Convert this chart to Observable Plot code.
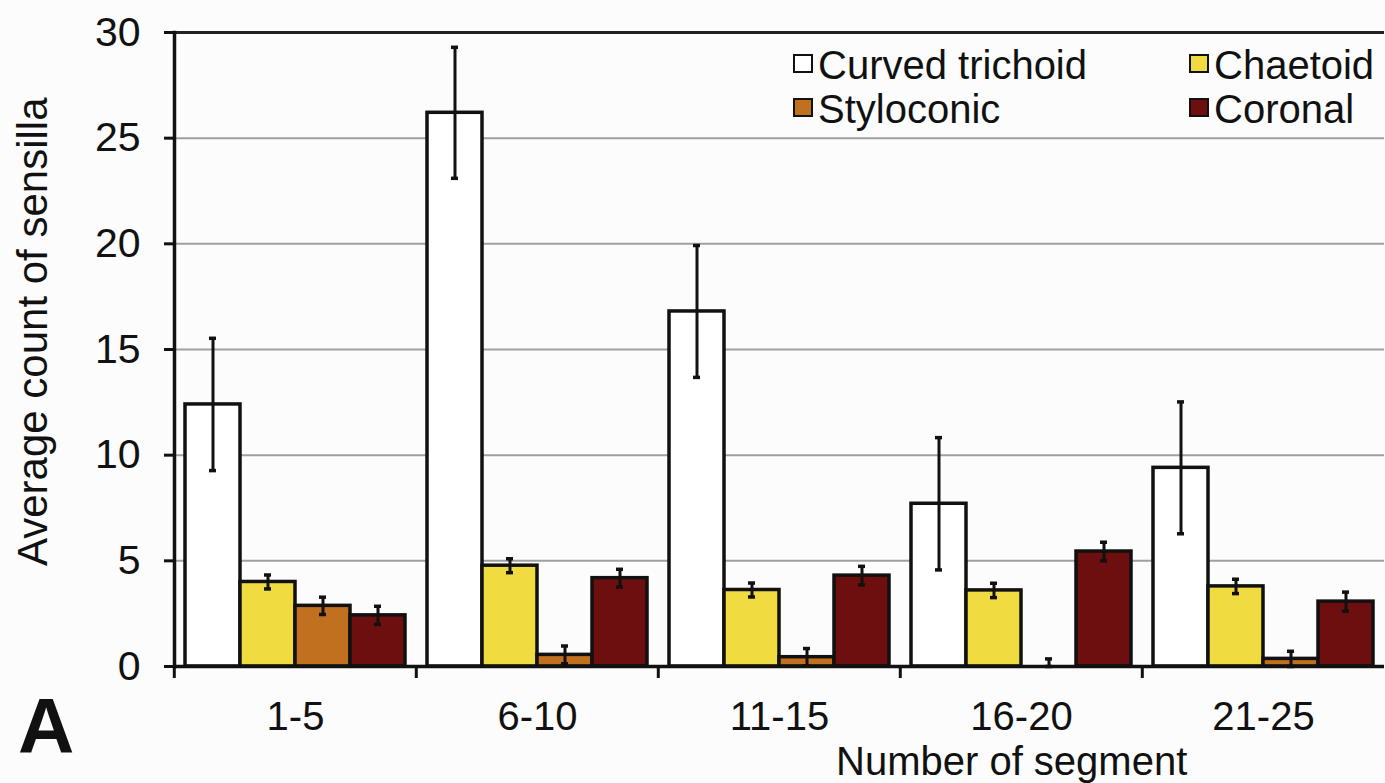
<!DOCTYPE html>
<html>
<head>
<meta charset="utf-8">
<script src="https://cdn.jsdelivr.net/npm/d3@7"></script>
<script src="https://cdn.jsdelivr.net/npm/@observablehq/plot@0.6"></script>
<style>
  html, body { margin: 0; padding: 0; background: #fcfcfc; }
  #wrap { position: relative; width: 1385px; height: 783px; overflow: hidden;
          font-family: "Liberation Sans", Arial, sans-serif; color: #111; }
  #wrap svg { position: absolute; left: 0; top: 0; }
  .lbl { position: absolute; white-space: nowrap; line-height: 1; }
  .sw { position: absolute; width: 16px; height: 15px; border: 2px solid #111; }
</style>
</head>
<body>
<div id="wrap"></div>
<script>
// ---- data ----
const groups = ["1-5", "6-10", "11-15", "16-20", "21-25"];
const series = ["Curved trichoid", "Chaetoid", "Styloconic", "Coronal"];
const seriesColors = ["#ffffff", "#f0dc40", "#c0701e", "#6e0f0f"];

const curvedTrichoid = [12.4, 26.2, 16.8, 7.7, 9.4];
const chaetoid       = [4.0, 4.77, 3.62, 3.6, 3.79];
const styloconic     = [2.87, 0.55, 0.44, 0.0, 0.36];
const coronal        = [2.42, 4.18, 4.3, 5.44, 3.07];

const seCurvedTrichoid = [3.13, 3.1, 3.12, 3.13, 3.12];
const seChaetoid       = [0.33, 0.33, 0.33, 0.34, 0.34];
const seStyloconic     = [0.41, 0.42, 0.41, 0.36, 0.36];
const seCoronal        = [0.43, 0.42, 0.44, 0.44, 0.45];

const yTicks = [0, 5, 10, 15, 20, 25, 30];
const gridTicks = [5, 10, 15, 20, 25];

const yLabel = "Average count of sensilla";
const xLabel = "Number of segment";
const panelLetter = "A";

// ---- table ----
const values = [curvedTrichoid, chaetoid, styloconic, coronal];
const errors = [seCurvedTrichoid, seChaetoid, seStyloconic, seCoronal];
const table = [];
groups.forEach((g, gi) => {
  series.forEach((s, si) => {
    const v = values[si][gi], e = errors[si][gi];
    table.push({group: g, series: s, value: v, lo: Math.max(0, v - e), hi: v + e});
  });
});

const FS = 40;
const W = 1385, H = 783, ML = 173, MR = 0, MT = 32, MB = 117;
const facetStep = (W - ML - MR) / groups.length;

const chart = Plot.plot({
  width: W, height: H,
  marginLeft: ML, marginRight: MR, marginTop: MT, marginBottom: MB,
  style: {fontFamily: '"Liberation Sans", Arial, sans-serif', background: "transparent", color: "#111", overflow: "visible"},
  fx: {domain: groups, padding: 0, axis: null},
  x: {domain: series, paddingInner: 0, paddingOuter: 0.18, axis: null},
  y: {domain: [0, 30], axis: null},
  color: {domain: series, range: seriesColors},
  marks: [
    Plot.ruleY(gridTicks, {stroke: "#a0a0a0", strokeWidth: 2}),
    Plot.ruleY([30], {stroke: "#222", strokeWidth: 3}),
    Plot.barY(table, {fx: "group", x: "series", y: "value", fill: "series", stroke: "#111", strokeWidth: 3.5}),
    Plot.ruleX(table, {fx: "group", x: "series", y1: "lo", y2: "hi", stroke: "#111", strokeWidth: 3}),
    Plot.tickY(table, {fx: "group", x: "series", y: "hi", stroke: "#111", strokeWidth: 3.5, inset: 24}),
    Plot.tickY(table, {fx: "group", x: "series", y: "lo", stroke: "#111", strokeWidth: 3.5, inset: 24}),
    Plot.ruleY([0], {stroke: "#111", strokeWidth: 3.5}),
    Plot.frame({anchor: "left", facetAnchor: "left", stroke: "#111", strokeWidth: 3.5}),
    Plot.axisY({ticks: yTicks, tickSize: 10, tickPadding: 24, fontSize: 41, label: null, stroke: "#111", strokeWidth: 3}),
    Plot.axisFx({anchor: "bottom", tickSize: 0, tickPadding: 35, fontSize: FS, label: null}),
    Plot.axisFx({anchor: "bottom", tickSize: 12, tickFormat: () => "", label: null, dx: -facetStep / 2, stroke: "#111", strokeWidth: 3})
  ]
});

const wrap = document.getElementById("wrap");
wrap.appendChild(chart);

function addText(txt, x, y, opts = {}) {
  const d = document.createElement("div");
  d.className = "lbl";
  d.textContent = txt;
  d.style.left = x + "px";
  d.style.top = y + "px";
  d.style.fontSize = (opts.size || FS) + "px";
  if (opts.bold) d.style.fontWeight = "bold";
  wrap.appendChild(d);
  return d;
}

// legend
const legendPos = [[793, 50], [1189, 50], [793, 94], [1189, 94]];
series.forEach((s, k) => {
  const [lx, ly] = legendPos[k];
  const sw = document.createElement("div");
  sw.className = "sw";
  sw.style.left = lx + "px";
  sw.style.top = (ly + 4) + "px";
  sw.style.background = seriesColors[k];
  wrap.appendChild(sw);
  addText(s, lx + 25, ly - 5, {size: 40});
});

// axis titles
const yl = addText(yLabel, 0, 0, {size: 42});
yl.style.left = "12px";
yl.style.top = "566px";
yl.style.transformOrigin = "0 0";
yl.style.transform = "rotate(-90deg)";

addText(xLabel, 836, 741, {size: 40});
addText(panelLetter, 18, 687, {size: 78, bold: true});
</script>
</body>
</html>
